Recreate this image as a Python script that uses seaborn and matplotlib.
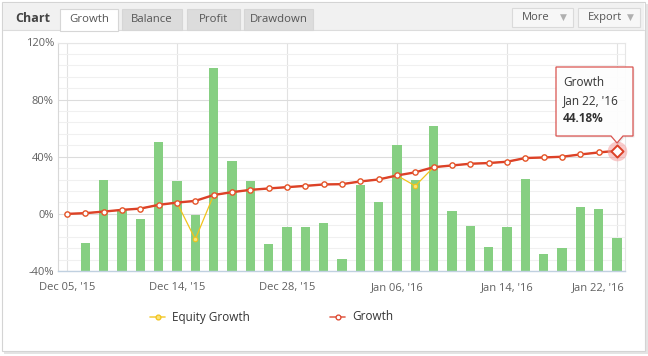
import matplotlib
matplotlib.use("Agg")
import matplotlib.pyplot as plt
import matplotlib.patches as mpatches
import matplotlib.transforms as mtransforms
from matplotlib.ticker import MultipleLocator, FuncFormatter
import numpy as np
import pandas as pd
import seaborn as sns

# ---- data ----
growth = [0.0, 0.5, 1.6, 2.8, 3.7, 6.3, 7.9, 9.1, 13.2, 15.2, 16.8, 17.8, 18.7,
          19.6, 20.6, 20.8, 22.7, 24.1, 26.9, 29.1, 32.7, 33.9, 35.1, 35.6,
          36.5, 39.1, 39.5, 40.0, 41.6, 43.0, 44.18]
equity_growth = [0.0, 0.5, 1.6, 2.8, 3.7, 6.3, 7.9, -17.8, 13.2, 15.2, 16.8,
                 17.8, 18.7, 19.6, 20.6, 20.8, 22.7, 24.1, 26.9, 19.6, 32.7,
                 33.9, 35.1, 35.6, 36.5, 39.1, 39.5, 40.0, 41.6, 43.0, 44.18]
# bar heights measured up from the bottom of the plot (-40%)
daily_bars = [0.0, 19.4, 63.4, 43.0, 36.7, 90.0, 62.7, 39.1, 142.0, 76.7, 62.7,
              18.7, 31.1, 31.1, 33.5, 8.2, 59.9, 48.6, 87.9, 63.9, 101.3, 42.3,
              31.8, 17.1, 31.1, 64.1, 12.2, 16.4, 45.1, 43.7, 23.4]
tick_labels = ["Dec 05, '15", "Dec 14, '15", "Dec 28, '15",
               "Jan 06, '16", "Jan 14, '16", "Jan 22, '16"]
tabs = ["Growth", "Balance", "Profit", "Drawdown"]
tooltip_date = "Jan 22, '16"

RED = "#dc4128"
YELLOW = "#f2c31a"
GREEN = "#86cf82"
W, H = 648, 356

sns.set_theme(style="white")
plt.rcParams["font.family"] = ["Open Sans", "DejaVu Sans"]

df = pd.DataFrame({
    "idx": np.arange(len(growth)),
    "growth": growth,
    "equity": equity_growth,
    "bars": daily_bars,
})

fig = plt.figure(figsize=(W / 100, H / 100), dpi=100)
fig.patch.set_facecolor("white")


def rect(x0, y0, x1, y1, **kw):
    # pixel box (top-left origin) -> figure-fraction rectangle
    r = mpatches.Rectangle((x0 / W, 1 - y1 / H), (x1 - x0) / W, (y1 - y0) / H,
                           transform=fig.transFigure, **kw)
    fig.patches.append(r)
    return r


def ftext(x, y, s, **kw):
    fig.text(x / W, 1 - y / H, s, **kw)


# panel frame + header strip
rect(4, 4, 648, 354, facecolor="#e4e4e4", edgecolor="none", zorder=0)
rect(2, 2, 645, 351, facecolor="white", edgecolor="#d4d4d4", lw=0.8, zorder=1)
rect(3, 3, 644, 30, facecolor="#f1f1f1", edgecolor="none", zorder=1)
fig.lines.append(plt.Line2D([3 / W, 644 / W], [1 - 30 / H] * 2,
                            transform=fig.transFigure, color="#dcdcdc", lw=0.8))
ftext(15, 19, "Chart", fontsize=9, fontweight="bold", color="#444",
      va="center", ha="left")

tab_edges = [(60, 118), (122, 182), (187, 240), (244, 313)]
for name, (x0, x1) in zip(tabs, tab_edges):
    active = name == "Growth"
    rect(x0, 9, x1, 31 if active else 30,
         facecolor="white" if active else "#dcdcdc",
         edgecolor="#d6d6d6", lw=0.8, zorder=2)
    ftext((x0 + x1) / 2, 20, name, fontsize=8.2, color="#555",
          ha="center", va="center", zorder=3)

for label, (x0, x1) in [("More", (512, 573)), ("Export", (578, 640))]:
    rect(x0, 8, x1, 27, facecolor="#f7f7f7", edgecolor="#dadada", lw=0.8, zorder=2)
    ftext(x0 + 10, 17.5, label, fontsize=8, color="#555", ha="left",
          va="center", zorder=3)
    ftext(x1 - 10, 17.5, "\u25bc", fontsize=6.5, color="#b0b0b0",
          ha="center", va="center", zorder=3, family=["DejaVu Sans"])

# ---- main plot ----
ax_l, ax_r, ax_t, ax_b = 58, 625, 42.5, 271
ax = fig.add_axes([ax_l / W, 1 - ax_b / H, (ax_r - ax_l) / W, (ax_b - ax_t) / H])
ax.set_zorder(5)
ax.set_facecolor("white")

y_floor = -40
sns.barplot(data=df, x="idx", y="bars", native_scale=True, width=0.5,
            color=GREEN, saturation=1, errorbar=None, bottom=y_floor,
            linewidth=0, ax=ax, zorder=2)

sns.lineplot(data=df, x="idx", y="equity", ax=ax, color=YELLOW, lw=0.9,
             marker="o", markersize=3.2, markerfacecolor="#fbe27a",
             markeredgecolor=YELLOW, markeredgewidth=0.8, zorder=3)
sns.lineplot(data=df, x="idx", y="growth", ax=ax, color=RED, lw=1.7,
             marker="o", markersize=3.8, markerfacecolor="white",
             markeredgecolor="#e4552c", markeredgewidth=1.0, zorder=4)

# hovered point
last_x, last_y = df["idx"].iloc[-1], df["growth"].iloc[-1]
ax.scatter([last_x], [last_y], s=200, color="#f5a0a0", alpha=0.55, lw=0,
           zorder=5, clip_on=False)
ax.scatter([last_x], [last_y], s=38, marker="D", facecolor="white",
           edgecolor=RED, lw=1.4, zorder=6, clip_on=False)

ax.set_ylim(-40, 120)
ax.set_xlim(-0.49, 30.44)
ax.yaxis.set_major_locator(MultipleLocator(40))
ax.yaxis.set_minor_locator(MultipleLocator(8))
ax.yaxis.set_major_formatter(FuncFormatter(lambda v, p: f"{v:.0f}%"))
ax.set_xticks(np.arange(0, len(growth), 6))
ax.set_xticklabels(tick_labels)
ax.set_xlabel("")
ax.set_ylabel("")

ax.grid(axis="y", which="major", color="#dcdcdc", lw=0.8, zorder=0)
ax.grid(axis="y", which="minor", color="#f0f0f0", lw=0.8, zorder=0)
ax.grid(axis="x", which="major", color="#e2e2e2", lw=0.8, zorder=0)
ax.set_axisbelow(True)

for side in ["top", "right"]:
    ax.spines[side].set_color("#e6e6e6")
    ax.spines[side].set_linewidth(0.8)
ax.spines["left"].set_color("#d8d8d8")
ax.spines["left"].set_linewidth(0.8)
ax.spines["bottom"].set_color("#c0d0e0")
ax.spines["bottom"].set_linewidth(1.0)

ax.tick_params(axis="both", length=0, labelsize=8, labelcolor="#606060")
ax.tick_params(axis="y", pad=3)
ax.tick_params(axis="x", pad=8)
last_lab = ax.get_xticklabels()[-1]
last_lab.set_ha("right")
last_lab.set_transform(last_lab.get_transform() +
                       mtransforms.ScaledTranslation(8 / 100, 0, fig.dpi_scale_trans))

# ---- tooltip ----
px = lambda x, y: (x / W, 1 - y / H)
callout = [px(556, 67), px(633, 67), px(633, 136), px(623, 136), px(617, 143),
           px(611, 136), px(556, 136)]
shadow = [(x + 1.5 / W, y - 1.5 / H) for x, y in callout]
fig.patches.append(mpatches.Polygon(shadow, closed=True, transform=fig.transFigure,
                                    facecolor=(0, 0, 0, 0.08), edgecolor="none",
                                    zorder=9))
fig.patches.append(mpatches.Polygon(callout, closed=True, transform=fig.transFigure,
                                    facecolor=(1, 1, 1, 0.92), edgecolor="#d9534f",
                                    lw=0.9, zorder=10))
ftext(563, 83, "Growth", fontsize=8.5, color="#333", ha="left", va="center", zorder=11)
ftext(563, 101, tooltip_date, fontsize=8.5, color="#333", ha="left", va="center", zorder=11)
ftext(563, 119, f"{last_y:.2f}%", fontsize=8.5, color="#333", fontweight="bold",
      ha="left", va="center", zorder=11)

# ---- legend ----
for name, color, face, (x0, tx) in [("Equity Growth", YELLOW, "#fbe27a", (150, 172)),
                                   ("Growth", RED, "white", (330, 352))]:
    fig.lines.append(plt.Line2D([x0 / W, (x0 + 15) / W], [1 - 317 / H] * 2,
                                transform=fig.transFigure, color=color, lw=1.2,
                                alpha=0.8))
    fig.lines.append(plt.Line2D([(x0 + 7.5) / W], [1 - 317 / H],
                                transform=fig.transFigure, color=color, lw=0,
                                marker="o", markersize=3.5, markerfacecolor=face,
                                markeredgecolor=color, markeredgewidth=0.9))
    ftext(tx, 317, name, fontsize=8.5, color="#333", ha="left", va="center")

fig.savefig("out.png", dpi=100)
